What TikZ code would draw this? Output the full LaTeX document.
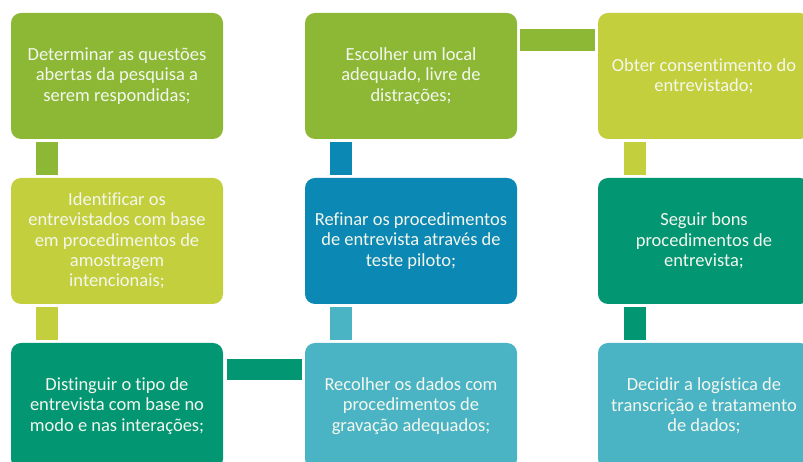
\documentclass[tikz,border=0pt]{standalone}
\usepackage{fontspec}
\setmainfont[Ligatures=NoCommon]{Carlito}
\definecolor{cgreen}{HTML}{8CB836}
\definecolor{cyg}{HTML}{C3CF3C}
\definecolor{cblue}{HTML}{0B88B3}
\definecolor{cteal}{HTML}{029673}
\definecolor{ccyan}{HTML}{4AB4C4}
\definecolor{ctext}{HTML}{F4F7EE}
\tikzset{
  box/.style={rectangle, rounded corners=10pt, minimum width=212pt, minimum height=126pt,
    inner sep=0pt, align=center, text=ctext,
    font=\fontsize{18.5pt}{20.3pt}\selectfont},
  conn/.style={line width=22pt, line cap=butt}
}
\begin{document}
\begin{tikzpicture}[x=1pt,y=1pt]
\useasboundingbox (0,0) rectangle (803,462);
\begin{scope}
\clip (0,0) rectangle (803,462);
% column 1
\node[box, fill=cgreen] (b1) at (117,386) {Determinar as questões\\abertas da pesquisa a\\serem respondidas;};
\node[box, fill=cyg] (b2) at (117,221) {Identificar os\\entrevistados com base\\em procedimentos de\\amostragem\\intencionais;};
\node[box, fill=cteal] (b3) at (117,56) {Distinguir o tipo de\\entrevista com base no\\modo e nas interações;};
% column 2
\node[box, fill=ccyan] (b4) at (411,56) {Recolher os dados com\\procedimentos de\\gravação adequados;};
\node[box, fill=cblue] (b5) at (411,221) {Refinar os procedimentos\\de entrevista através de\\teste piloto;};
\node[box, fill=cgreen] (b6) at (411,386) {Escolher um local\\adequado, livre de\\distrações;};
% column 3
\node[box, fill=cyg] (b7) at (704,386) {Obter consentimento do\\entrevistado;};
\node[box, fill=cteal] (b8) at (704,221) {Seguir bons\\procedimentos de\\entrevista;};
\node[box, fill=ccyan] (b9) at (704,56) {Decidir a logística de\\transcrição e tratamento\\de dados;};
% connectors
\draw[conn, cgreen] ([xshift=36pt,yshift=-3pt]b1.south west) -- ([xshift=36pt,yshift=3pt]b2.north west);
\draw[conn, cyg] ([xshift=36pt,yshift=-3pt]b2.south west) -- ([xshift=36pt,yshift=3pt]b3.north west);
\draw[conn, line width=21pt, cteal] ([xshift=4pt,yshift=-26.5pt]b3.north east) -- ([xshift=-3pt,yshift=-26.5pt]b4.north west);
\draw[conn, ccyan] ([xshift=36pt,yshift=3pt]b4.north west) -- ([xshift=36pt,yshift=-3pt]b5.south west);
\draw[conn, cblue] ([xshift=36pt,yshift=3pt]b5.north west) -- ([xshift=36pt,yshift=-3pt]b6.south west);
\draw[conn, cgreen] ([xshift=3pt,yshift=-27pt]b6.north east) -- ([xshift=-3pt,yshift=-27pt]b7.north west);
\draw[conn, cyg] ([xshift=37pt,yshift=-3pt]b7.south west) -- ([xshift=37pt,yshift=3pt]b8.north west);
\draw[conn, cteal] ([xshift=37pt,yshift=-3pt]b8.south west) -- ([xshift=37pt,yshift=3pt]b9.north west);
\end{scope}
\end{tikzpicture}
\end{document}
